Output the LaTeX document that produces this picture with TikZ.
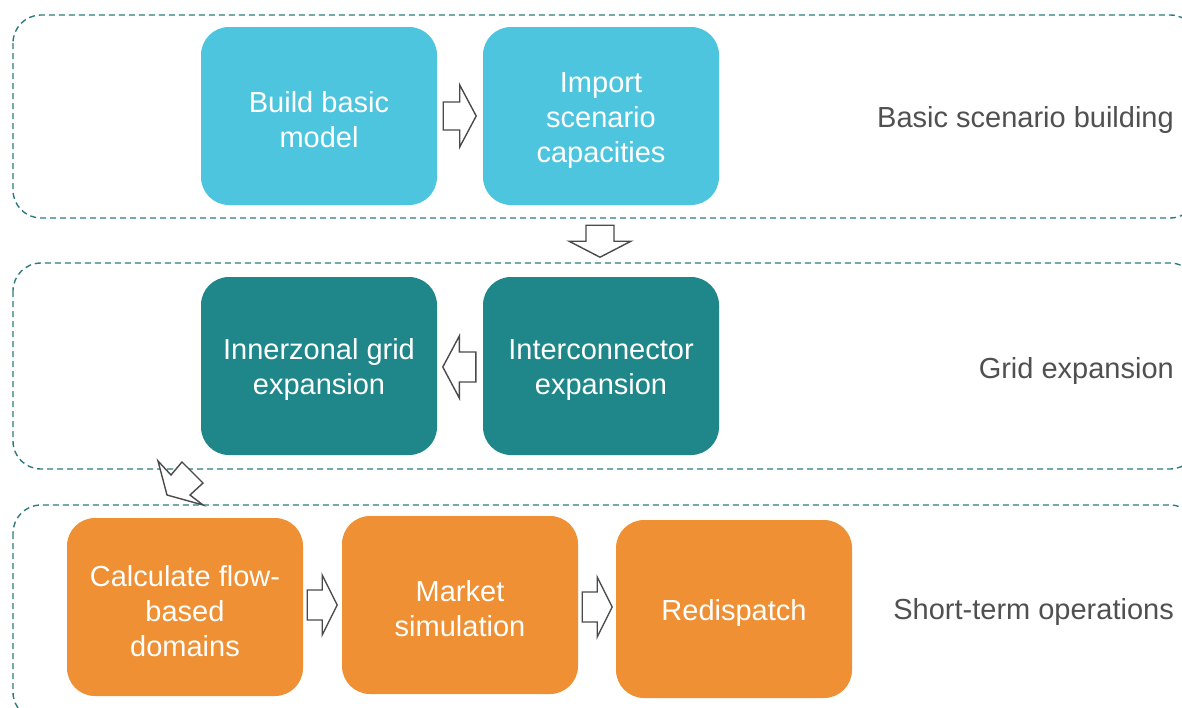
\documentclass[tikz,border=0pt]{standalone}
\usepackage{fontspec}
\setmainfont{Liberation Sans}
\usetikzlibrary{calc}

\definecolor{skyblue}{HTML}{4EC5DE}
\definecolor{tealbox}{HTML}{1F8789}
\definecolor{orangebox}{HTML}{EE9033}
\definecolor{frameline}{HTML}{2E7B7C}
\definecolor{arrowgray}{HTML}{4A4A4A}
\definecolor{labelgray}{HTML}{505050}

% tall zero-width strut that lowers the text block inside a step box
\newcommand\boxstrut{\rule{0pt}{29pt}}

% block arrow: start point, rotation, length, half head width, half shaft width
\newcommand\blkarrow[5]{%
  \draw[arrowline, shift={#1}, rotate=#2]
    (0,-#5) -- ({#3/2},-#5) -- ({#3/2},-#4) -- (#3,0) -- ({#3/2},#4)
    -- ({#3/2},#5) -- (0,#5) -- cycle;}

\tikzset{
  stepbox/.style={rectangle, rounded corners=28pt, minimum width=236pt,
    minimum height=178pt, inner sep=0pt, align=center, text=white,
    font=\fontsize{29}{35}\selectfont},
  phaseframe/.style={draw=frameline, line width=1.4pt, dash pattern=on 6pt off 4pt,
    rounded corners=28pt},
  phaselabel/.style={anchor=base east, text=labelgray, inner sep=0pt,
    font=\fontsize{29}{35}\selectfont},
  arrowline/.style={draw=arrowgray, fill=white, line width=1.4pt, line join=miter}
}

\begin{document}
\begin{tikzpicture}[x=1pt, y=-1pt]
\useasboundingbox (0,0) rectangle (1182,707);
\clip (0,0) rectangle (1182,707);
\fill[white] (0,0) rectangle (1182,707);

% phase frames
\draw[phaseframe] (13,15) rectangle (1198,218);
\draw[phaseframe] (13,263) rectangle (1198,469);
\draw[phaseframe] (13,505) rectangle (1198,720);

% phase labels
\node[phaselabel] (lbasic) at (1174,127) {Basic scenario building};
\node[phaselabel] (lgrid) at (1174,378) {Grid expansion};
\node[phaselabel] (lshort) at (1174,619) {Short-term operations};

% steps
\node[stepbox, fill=skyblue] (bbm) at (319,116) {\boxstrut Build basic\\model};
\node[stepbox, fill=skyblue] (isc) at (601,116) {\boxstrut Import\\scenario\\capacities};
\node[stepbox, fill=tealbox] (ige) at (319,366) {\boxstrut Innerzonal grid\\expansion};
\node[stepbox, fill=tealbox] (iex) at (601,366) {\boxstrut Interconnector\\expansion};
\node[stepbox, fill=orangebox] (cfd) at (185,607) {\boxstrut Calculate flow-\\based\\domains};
\node[stepbox, fill=orangebox] (msim) at (460,605) {\boxstrut Market\\simulation};
\node[stepbox, fill=orangebox] (red) at (734,609) {\boxstrut Redispatch};

% block arrows between steps
\blkarrow{($(bbm.east)+(6,0)$)}{0}{33}{31}{14}
\blkarrow{($(isc.south)+(-1,20)$)}{-90}{32}{31}{14}
\blkarrow{($(iex.west)+(-7,1)$)}{180}{33}{31}{15}
\blkarrow{($(cfd.east)+(4,-2)$)}{0}{30}{30}{15}
\blkarrow{($(msim.east)+(4,2)$)}{0}{30}{30}{15}

% skewed arrow from the operations phase up to the grid expansion phase
\draw[arrowline] (158,461) -- (171,475) -- (182,462) -- (203,483)
  -- (190,495) -- (203,505) -- (167,495) -- cycle;
\end{tikzpicture}
\end{document}
